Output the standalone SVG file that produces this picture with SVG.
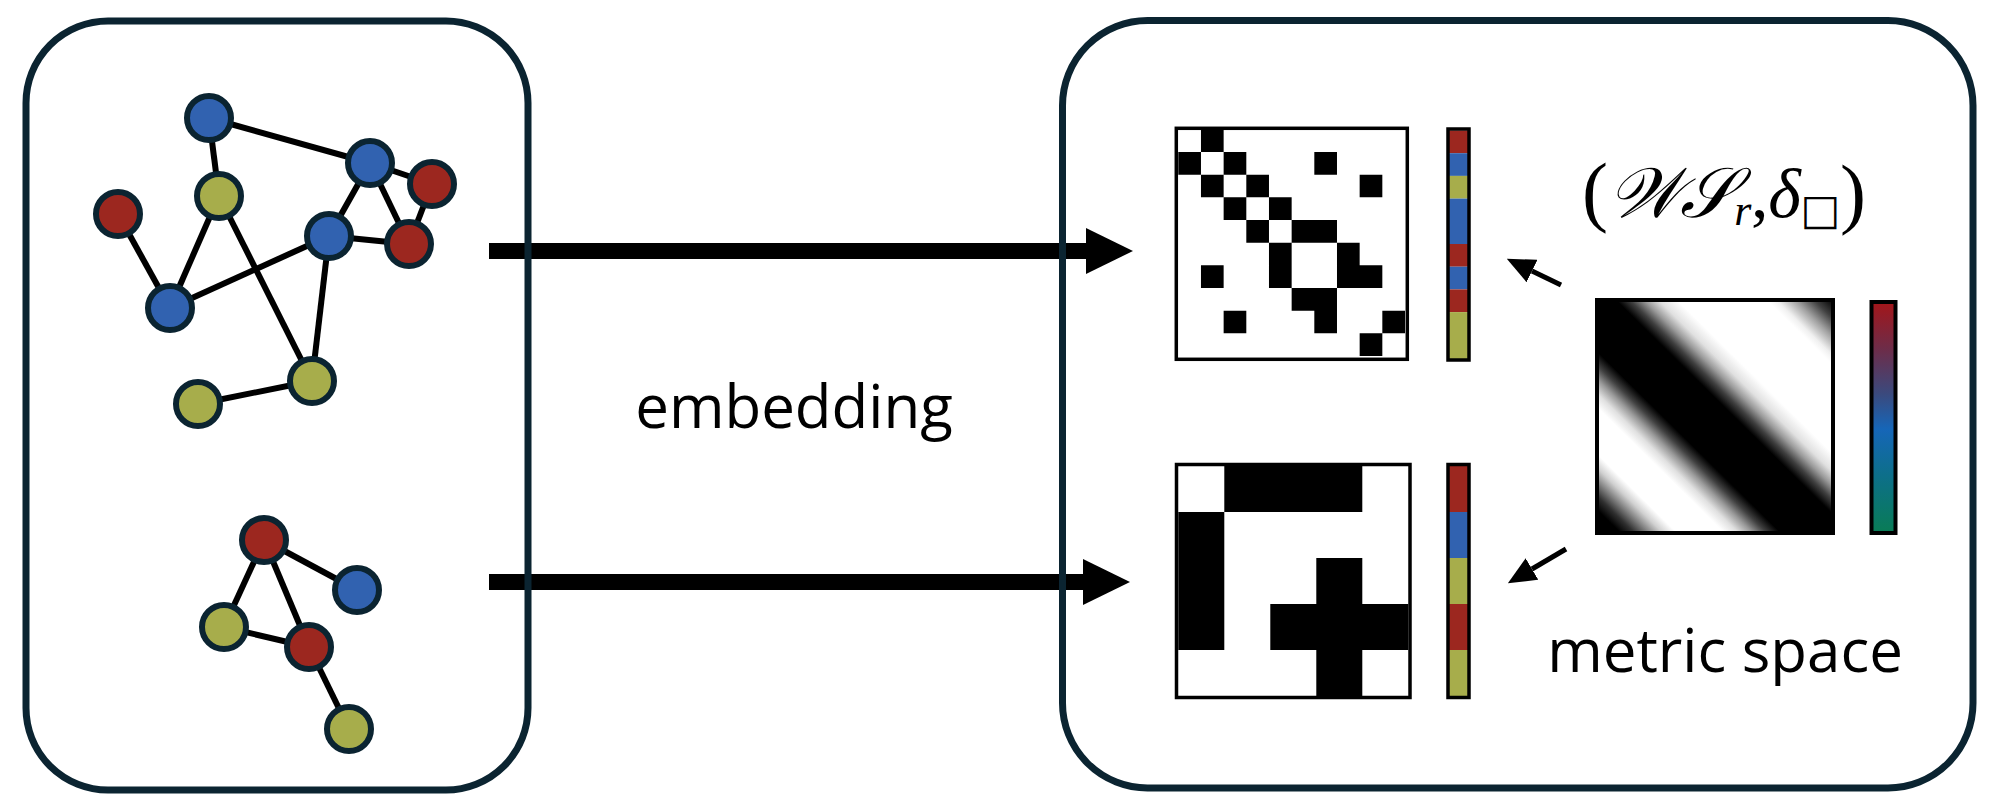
<svg xmlns="http://www.w3.org/2000/svg" width="1999" height="806" viewBox="0 0 1999 806">
<defs>
<style>
.panel{fill:none;stroke:#0b2431;stroke-width:7}
.edge{stroke:#000;stroke-width:6;fill:none}
.node{stroke:#0b2431;stroke-width:6}
.blue{fill:#3162b0}
.red{fill:#9c271f}
.green{fill:#a7ad4b}
.big{stroke:#000;stroke-width:16;fill:none}
.small{stroke:#000;stroke-width:5;fill:none}
.frame{fill:none;stroke:#000;stroke-width:3.5}
.label{font-family:"Open Sans","Liberation Sans",sans-serif;font-size:60px;fill:#000}
.math{font-family:"Liberation Serif","DejaVu Serif",serif;fill:#000}
</style>
<marker id="bighead" markerUnits="userSpaceOnUse" markerWidth="47" markerHeight="46" refX="0" refY="23" orient="auto" viewBox="0 0 47 46"><path d="M0,0L47,23L0,46z" fill="#000"/></marker>
<marker id="smallhead" markerUnits="userSpaceOnUse" markerWidth="28" markerHeight="25" refX="0" refY="12.5" orient="auto" viewBox="0 0 28 25"><path d="M0,0L28,12.5L0,25z" fill="#000"/></marker>
<linearGradient id="wgrad" x1="1" y1="0" x2="0" y2="1">
<stop offset="0" stop-color="#000"/>
<stop offset="0.04" stop-color="#404040"/>
<stop offset="0.08" stop-color="#a0a0a0"/>
<stop offset="0.12" stop-color="#f0f0f0"/>
<stop offset="0.14" stop-color="#fff"/>
<stop offset="0.33" stop-color="#fff"/>
<stop offset="0.37" stop-color="#e0e0e0"/>
<stop offset="0.40" stop-color="#9a9a9a"/>
<stop offset="0.43" stop-color="#404040"/>
<stop offset="0.46" stop-color="#000"/>
<stop offset="0.61" stop-color="#000"/>
<stop offset="0.64" stop-color="#404040"/>
<stop offset="0.67" stop-color="#9a9a9a"/>
<stop offset="0.70" stop-color="#e0e0e0"/>
<stop offset="0.73" stop-color="#fff"/>
<stop offset="0.83" stop-color="#fff"/>
<stop offset="0.86" stop-color="#d0d0d0"/>
<stop offset="0.89" stop-color="#808080"/>
<stop offset="0.92" stop-color="#303030"/>
<stop offset="0.95" stop-color="#000"/>
<stop offset="1" stop-color="#000"/>
</linearGradient>
<linearGradient id="cbar" x1="0" y1="0" x2="0" y2="1">
<stop offset="0" stop-color="#a3161a"/>
<stop offset="0.2" stop-color="#6e2c48"/>
<stop offset="0.4" stop-color="#3a4a7e"/>
<stop offset="0.55" stop-color="#1666b8"/>
<stop offset="0.75" stop-color="#0d6f8a"/>
<stop offset="1" stop-color="#097c55"/>
</linearGradient>
</defs>
<rect width="1999" height="806" fill="#fff"/>

<g id="connectors">
<line class="big" x1="489" y1="251" x2="1086" y2="251" marker-end="url(#bighead)"/>
<line class="big" x1="489" y1="582" x2="1083" y2="582" marker-end="url(#bighead)"/>
<line class="small" x1="1561" y1="285" x2="1532" y2="271" marker-end="url(#smallhead)"/>
<line class="small" x1="1566" y1="549" x2="1532" y2="569" marker-end="url(#smallhead)"/>
</g>

<g id="left-panel"><rect class="panel" x="26" y="21" width="502" height="769" rx="82" ry="82"/></g>
<g id="right-panel"><rect class="panel" x="1062.5" y="20.5" width="910.5" height="767.5" rx="85" ry="85"/></g>

<g id="graph-edges">
<line class="edge" x1="209" y1="118" x2="370" y2="163"/>
<line class="edge" x1="209" y1="118" x2="219" y2="196"/>
<line class="edge" x1="219" y1="196" x2="170" y2="308"/>
<line class="edge" x1="219" y1="196" x2="312" y2="381"/>
<line class="edge" x1="118" y1="214" x2="170" y2="308"/>
<line class="edge" x1="170" y1="308" x2="329" y2="236"/>
<line class="edge" x1="329" y1="236" x2="370" y2="163"/>
<line class="edge" x1="329" y1="236" x2="409" y2="244"/>
<line class="edge" x1="329" y1="236" x2="312" y2="381"/>
<line class="edge" x1="370" y1="163" x2="432" y2="184"/>
<line class="edge" x1="370" y1="163" x2="409" y2="244"/>
<line class="edge" x1="432" y1="184" x2="409" y2="244"/>
<line class="edge" x1="312" y1="381" x2="198" y2="404"/>
<line class="edge" x1="264" y1="540" x2="224" y2="627"/>
<line class="edge" x1="264" y1="540" x2="309" y2="647"/>
<line class="edge" x1="264" y1="540" x2="357" y2="590"/>
<line class="edge" x1="224" y1="627" x2="309" y2="647"/>
<line class="edge" x1="309" y1="647" x2="349" y2="729"/>
</g>

<g id="node-a"><circle class="node blue" cx="209" cy="118" r="22"/></g>
<g id="node-b"><circle class="node green" cx="219" cy="196" r="22"/></g>
<g id="node-c"><circle class="node red" cx="118" cy="214" r="22"/></g>
<g id="node-d"><circle class="node blue" cx="170" cy="308" r="22"/></g>
<g id="node-e"><circle class="node blue" cx="370" cy="163" r="22"/></g>
<g id="node-f"><circle class="node red" cx="432" cy="184" r="22"/></g>
<g id="node-g"><circle class="node blue" cx="329" cy="236" r="22"/></g>
<g id="node-h"><circle class="node red" cx="409" cy="244" r="22"/></g>
<g id="node-i"><circle class="node green" cx="312" cy="381" r="22"/></g>
<g id="node-j"><circle class="node green" cx="198" cy="404" r="22"/></g>
<g id="node-k"><circle class="node red" cx="264" cy="540" r="22"/></g>
<g id="node-l"><circle class="node blue" cx="357" cy="590" r="22"/></g>
<g id="node-m"><circle class="node green" cx="224" cy="627" r="22"/></g>
<g id="node-n"><circle class="node red" cx="309" cy="647" r="22"/></g>
<g id="node-o"><circle class="node green" cx="349" cy="729" r="22"/></g>

<g id="matrix-1">
<path transform="translate(1178.3,129.3) scale(22.67)" fill="#000" d="M1 0h1v1h-1zM0 1h1v1h-1zM2 1h1v1h-1zM6 1h1v1h-1zM1 2h1v1h-1zM3 2h1v1h-1zM8 2h1v1h-1zM2 3h1v1h-1zM4 3h1v1h-1zM3 4h1v1h-1zM5 4h2v1h-2zM4 5h1v1h-1zM7 5h1v1h-1zM1 6h1v1h-1zM4 6h1v1h-1zM7 6h2v1h-2zM5 7h2v1h-2zM2 8h1v1h-1zM6 8h1v1h-1zM9 8h1v1h-1zM8 9h1v1h-1z"/>
<rect class="frame" x="1176.3" y="128.3" width="231" height="231"/>
</g>

<g id="colorbar-1">
<rect x="1448" y="130.5" width="21" height="22.7" class="red"/>
<rect x="1448" y="153.2" width="21" height="22.7" class="blue"/>
<rect x="1448" y="175.9" width="21" height="22.7" class="green"/>
<rect x="1448" y="198.6" width="21" height="45.4" class="blue"/>
<rect x="1448" y="244" width="21" height="22.7" class="red"/>
<rect x="1448" y="266.7" width="21" height="22.7" class="blue"/>
<rect x="1448" y="289.4" width="21" height="22.7" class="red"/>
<rect x="1448" y="312.1" width="21" height="46.9" class="green"/>
<rect class="frame" x="1448" y="129" width="21" height="231"/>
</g>

<g id="matrix-2">
<path transform="translate(1178.3,466) scale(46)" fill="#000" d="M1 0h3v1h-3zM0 1h1v3h-1zM3 2h1v1h-1zM2 3h3v1h-3zM3 4h1v1h-1z"/>
<rect class="frame" x="1176.5" y="464.5" width="233.5" height="233"/>
</g>

<g id="colorbar-2">
<rect x="1448" y="466" width="21" height="46" class="red"/>
<rect x="1448" y="512" width="21" height="46" class="blue"/>
<rect x="1448" y="558" width="21" height="46" class="green"/>
<rect x="1448" y="604" width="21" height="46" class="red"/>
<rect x="1448" y="650" width="21" height="46" class="green"/>
<rect class="frame" x="1448" y="464.5" width="21" height="233"/>
</g>

<g id="graphon">
<rect x="1597" y="300" width="236" height="233" fill="url(#wgrad)" stroke="#000" stroke-width="4"/>
</g>

<g id="graphon-colorbar">
<rect x="1871.5" y="302" width="24" height="231" fill="url(#cbar)" stroke="#000" stroke-width="4"/>
</g>

<g id="label-embedding"><text class="label" x="794" y="428" text-anchor="middle">embedding</text></g>
<g id="label-metric"><text class="label" x="1725" y="672" text-anchor="middle">metric space</text></g>
<g id="label-ws">
<text class="math" x="1582" y="217" font-size="70" textLength="284" lengthAdjust="spacing"><tspan font-size="78">(</tspan><tspan font-style="italic">𝒲𝒮</tspan><tspan dy="8" font-size="44" font-style="italic">r</tspan><tspan dy="-8">,</tspan><tspan font-style="italic">δ</tspan><tspan dy="7" font-size="42" font-family="DejaVu Sans">□</tspan><tspan dy="-5" font-size="78">)</tspan></text>
</g>
</svg>
